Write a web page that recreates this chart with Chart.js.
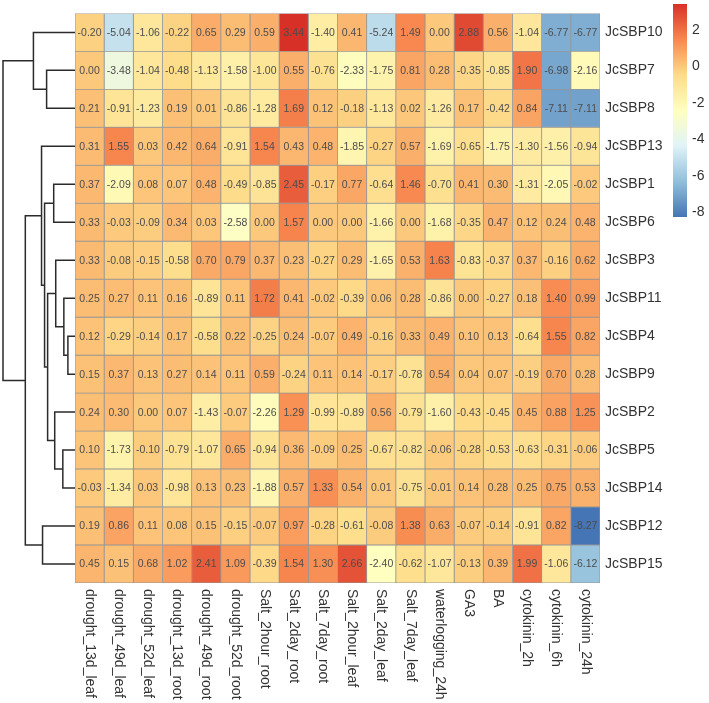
<!DOCTYPE html>
<html>
<head>
<meta charset="utf-8">
<script src="https://cdn.jsdelivr.net/npm/chart.js@4.4.1/dist/chart.umd.min.js"></script>
<style>
    html, body { margin: 0; padding: 0; background: #ffffff; }
    #wrap { position: relative; width: 709px; height: 703px; }
</style>
</head>
<body>
<div id="wrap"><canvas id="heatmap"></canvas></div>
<script>
const genes = ["JcSBP10", "JcSBP7", "JcSBP8", "JcSBP13", "JcSBP1", "JcSBP6", "JcSBP3", "JcSBP11",
    "JcSBP4", "JcSBP9", "JcSBP2", "JcSBP5", "JcSBP14", "JcSBP12", "JcSBP15"];

const conditions = ["drought_13d_leaf", "drought_49d_leaf", "drought_52d_leaf", "drought_13d_root",
    "drought_49d_root", "drought_52d_root", "Salt_2hour_root", "Salt_2day_root", "Salt_7day_root",
    "Salt_2hour_leaf", "Salt_2day_leaf", "Salt_7day_leaf", "waterlogging_24h", "GA3", "BA",
    "cytokinin_2h", "cytokinin_6h", "cytokinin_24h"];

// one row per gene, one value per condition
const sbp10 = [-0.20, -5.04, -1.06, -0.22, 0.65, 0.29, 0.59, 3.44, -1.40, 0.41, -5.24, 1.49, 0.00, 2.88, 0.56, -1.04, -6.77, -6.77];
const sbp7 = [0.00, -3.48, -1.04, -0.48, -1.13, -1.58, -1.00, 0.55, -0.76, -2.33, -1.75, 0.81, 0.28, -0.35, -0.85, 1.90, -6.98, -2.16];
const sbp8 = [0.21, -0.91, -1.23, 0.19, 0.01, -0.86, -1.28, 1.69, 0.12, -0.18, -1.13, 0.02, -1.26, 0.17, -0.42, 0.84, -7.11, -7.11];
const sbp13 = [0.31, 1.55, 0.03, 0.42, 0.64, -0.91, 1.54, 0.43, 0.48, -1.85, -0.27, 0.57, -1.69, -0.65, -1.75, -1.30, -1.56, -0.94];
const sbp1 = [0.37, -2.09, 0.08, 0.07, 0.48, -0.49, -0.85, 2.45, -0.17, 0.77, -0.64, 1.46, -0.70, 0.41, 0.30, -1.31, -2.05, -0.02];
const sbp6 = [0.33, -0.03, -0.09, 0.34, 0.03, -2.58, 0.00, 1.57, 0.00, 0.00, -1.66, 0.00, -1.68, -0.35, 0.47, 0.12, 0.24, 0.48];
const sbp3 = [0.33, -0.08, -0.15, -0.58, 0.70, 0.79, 0.37, 0.23, -0.27, 0.29, -1.65, 0.53, 1.63, -0.83, -0.37, 0.37, -0.16, 0.62];
const sbp11 = [0.25, 0.27, 0.11, 0.16, -0.89, 0.11, 1.72, 0.41, -0.02, -0.39, 0.06, 0.28, -0.86, 0.00, -0.27, 0.18, 1.40, 0.99];
const sbp4 = [0.12, -0.29, -0.14, 0.17, -0.58, 0.22, -0.25, 0.24, -0.07, 0.49, -0.16, 0.33, 0.49, 0.10, 0.13, -0.64, 1.55, 0.82];
const sbp9 = [0.15, 0.37, 0.13, 0.27, 0.14, 0.11, 0.59, -0.24, 0.11, 0.14, -0.17, -0.78, 0.54, 0.04, 0.07, -0.19, 0.70, 0.28];
const sbp2 = [0.24, 0.30, 0.00, 0.07, -1.43, -0.07, -2.26, 1.29, -0.99, -0.89, 0.56, -0.79, -1.60, -0.43, -0.45, 0.45, 0.88, 1.25];
const sbp5 = [0.10, -1.73, -0.10, -0.79, -1.07, 0.65, -0.94, 0.36, -0.09, 0.25, -0.67, -0.82, -0.06, -0.28, -0.53, -0.63, -0.31, -0.06];
const sbp14 = [-0.03, -1.34, 0.03, -0.98, 0.13, 0.23, -1.88, 0.57, 1.33, 0.54, 0.01, -0.75, -0.01, 0.14, 0.28, 0.25, 0.75, 0.53];
const sbp12 = [0.19, 0.86, 0.11, 0.08, 0.15, -0.15, -0.07, 0.97, -0.28, -0.61, -0.08, 1.38, 0.63, -0.07, -0.14, -0.91, 0.82, -8.27];
const sbp15 = [0.45, 0.15, 0.68, 1.02, 2.41, 1.09, -0.39, 1.54, 1.30, 2.66, -2.40, -0.62, -1.07, -0.13, 0.39, 1.99, -1.06, -6.12];

const rows = [sbp10, sbp7, sbp8, sbp13, sbp1, sbp6, sbp3, sbp11, sbp4, sbp9, sbp2, sbp5, sbp14, sbp12, sbp15];

// colour key ticks
const legendTicks = [2, 0, -2, -4, -6, -8];

// row clustering, hclust style: negative = leaf (row number), positive = earlier merge
const dendroMerges = [
    [-2, -3, 28],
    [-1, 1, 41],
    [-5, -6, 21],
    [-9, -10, 7],
    [-8, 4, 11],
    [-7, 5, 19],
    [-12, -13, 12],
    [-11, 7, 20],
    [6, 8, 27],
    [3, 9, 30],
    [-4, 10, 33],
    [-14, -15, 32],
    [11, 12, 49],
    [2, 13, 71]
];

const palette = ["#4575B4", "#91BFDB", "#E0F3F8", "#FFFFBF", "#FDDC8A", "#F8884F", "#D73027"];
const allValues = rows.flat();
const minValue = Math.min(...allValues);
const maxValue = Math.max(...allValues);

function hexToRgb(hex) {
    return [1, 3, 5].map((i) => parseInt(hex.substring(i, i + 2), 16));
}

function valueColour(value) {
    const t = (value - minValue) / (maxValue - minValue);
    const pos = Math.min(Math.max(t, 0), 1) * (palette.length - 1);
    const i = Math.min(Math.floor(pos), palette.length - 2);
    const f = pos - i;
    const a = hexToRgb(palette[i]);
    const b = hexToRgb(palette[i + 1]);
    const c = a.map((v, k) => Math.round(v + (b[k] - v) * f));
    return `rgb(${c[0]}, ${c[1]}, ${c[2]})`;
}

const datasets = conditions.map((condition, col) => ({
    label: condition,
    data: rows.map(() => 1),
    values: rows.map((row) => row[col]),
    backgroundColor: rows.map((row) => valueColour(row[col])),
    borderColor: "#969696",
    borderWidth: 0.8,
    borderSkipped: false,
    categoryPercentage: 1,
    barPercentage: 1
}));

const cellText = {
    id: "cellText",
    afterDatasetsDraw(chart) {
        const ctx = chart.ctx;
        ctx.save();
        ctx.font = "10.5px 'Liberation Sans', Arial, sans-serif";
        ctx.fillStyle = "#4d4d4d";
        ctx.textAlign = "center";
        ctx.textBaseline = "middle";
        chart.data.datasets.forEach((ds, d) => {
            chart.getDatasetMeta(d).data.forEach((bar, i) => {
                ctx.fillText(ds.values[i].toFixed(2), (bar.x + bar.base) / 2, bar.y + 0.5);
            });
        });
        ctx.restore();
    }
};

const columnLabels = {
    id: "columnLabels",
    afterDraw(chart) {
        const ctx = chart.ctx;
        const xScale = chart.scales.x;
        const bottom = chart.chartArea.bottom;
        ctx.save();
        ctx.font = "14px 'Liberation Sans', Arial, sans-serif";
        ctx.fillStyle = "#333333";
        ctx.textAlign = "left";
        ctx.textBaseline = "middle";
        conditions.forEach((label, i) => {
            ctx.save();
            ctx.translate(xScale.getPixelForValue(i + 0.5), bottom + 6);
            ctx.rotate(Math.PI / 2);
            ctx.fillText(label, 0, 0);
            ctx.restore();
        });
        ctx.restore();
    }
};

const dendrogram = {
    id: "dendrogram",
    afterDraw(chart) {
        const ctx = chart.ctx;
        const yScale = chart.scales.y;
        const leafX = chart.chartArea.left;
        const maxHeight = Math.max(...dendroMerges.map((m) => m[2]));
        const scaleX = (leafX - 3) / maxHeight;
        const nodes = [];

        function place(ref) {
            if (ref < 0) {
                return { x: leafX, y: yScale.getPixelForValue(-ref - 1) };
            }
            return nodes[ref - 1];
        }

        ctx.save();
        ctx.strokeStyle = "#2b2b2b";
        ctx.lineWidth = 1.5;
        dendroMerges.forEach(([a, b, h]) => {
            const pa = place(a);
            const pb = place(b);
            const x = leafX - h * scaleX;
            ctx.beginPath();
            ctx.moveTo(pa.x, pa.y);
            ctx.lineTo(x, pa.y);
            ctx.lineTo(x, pb.y);
            ctx.lineTo(pb.x, pb.y);
            ctx.stroke();
            nodes.push({ x, y: (pa.y + pb.y) / 2 });
        });
        ctx.restore();
    }
};

const colourKey = {
    id: "colourKey",
    afterDraw(chart) {
        const ctx = chart.ctx;
        const left = 673;
        const width = 14;
        const top = 4;
        const bottom = 217;
        const toY = (v) => top + (maxValue - v) / (maxValue - minValue) * (bottom - top);
        const gradient = ctx.createLinearGradient(0, bottom, 0, top);
        palette.forEach((colour, i) => gradient.addColorStop(i / (palette.length - 1), colour));

        ctx.save();
        ctx.fillStyle = gradient;
        ctx.fillRect(left, top, width, bottom - top);
        ctx.font = "14px 'Liberation Sans', Arial, sans-serif";
        ctx.fillStyle = "#333333";
        ctx.textAlign = "left";
        ctx.textBaseline = "middle";
        legendTicks.forEach((tick) => {
            ctx.fillText(String(tick), left + width + 5, toY(tick));
        });
        ctx.restore();
    }
};

new Chart(document.getElementById("heatmap"), {
    type: "bar",
    data: {
        labels: genes,
        datasets
    },
    options: {
        indexAxis: "y",
        responsive: true,
        maintainAspectRatio: false,
        animation: false,
        layout: {
            padding: { left: 75, top: 2, bottom: 120, right: 0 }
        },
        plugins: {
            legend: { display: false },
            tooltip: { enabled: false }
        },
        scales: {
            x: {
                type: "linear",
                stacked: true,
                min: 0,
                max: conditions.length,
                display: false
            },
            y: {
                stacked: true,
                position: "right",
                grid: { display: false, drawTicks: false },
                border: { display: false },
                ticks: {
                    color: "#333333",
                    padding: 5,
                    font: { size: 14, family: "'Liberation Sans', Arial, sans-serif" }
                },
                afterFit(scale) {
                    scale.width = 109;
                }
            }
        }
    },
    plugins: [cellText, columnLabels, dendrogram, colourKey]
});
</script>
</body>
</html>
